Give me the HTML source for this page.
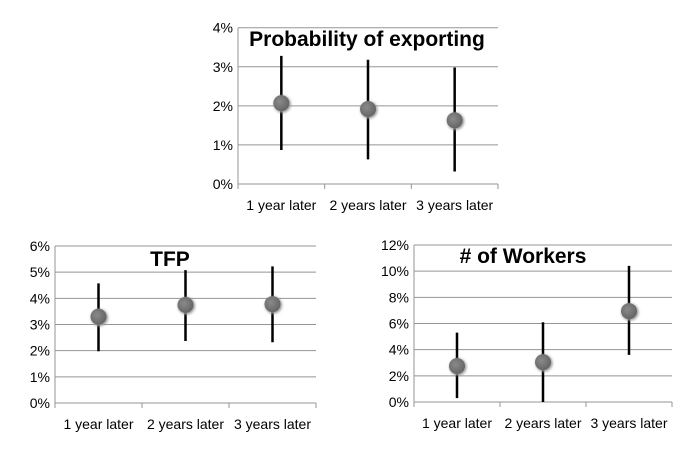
<!DOCTYPE html>
<html><head><meta charset="utf-8"><style>
body{margin:0;background:#fff;width:692px;height:455px;overflow:hidden}
svg text{font-family:"Liberation Sans",sans-serif}
</style></head><body>
<svg id="s" width="692" height="455"></svg>
<script>
const categories=["1 year later","2 years later","3 years later"];
const exportVals=[2.07,1.92,1.63];
const exportHi=[3.28,3.18,2.98];
const exportLo=[0.87,0.63,0.32];
const exportTicks=["0%","1%","2%","3%","4%"];
const tfpVals=[3.3,3.75,3.78];
const tfpHi=[4.57,5.08,5.22];
const tfpLo=[1.98,2.37,2.32];
const tfpTicks=["0%","1%","2%","3%","4%","5%","6%"];
const workVals=[2.75,3.05,6.95];
const workHi=[5.3,6.1,10.4];
const workLo=[0.3,0.0,3.6];
const workTicks=["0%","2%","4%","6%","8%","10%","12%"];
const NS="http://www.w3.org/2000/svg";
const svg=document.getElementById('s');
const defs=document.createElementNS(NS,'defs');
defs.innerHTML='<radialGradient id="g" cx="40%" cy="40%" r="60%"><stop offset="0" stop-color="#8a8a8a"/><stop offset="1" stop-color="#666"/></radialGradient><filter id="sh" x="-50%" y="-50%" width="200%" height="200%"><feGaussianBlur stdDeviation="1.2"/></filter>';
svg.appendChild(defs);
function mk(tag,attrs,parent,txt){const e=document.createElementNS(NS,tag);for(const k in attrs)e.setAttribute(k,attrs[k]);if(txt!==undefined)e.textContent=txt;parent.appendChild(e);return e;}
function chart(name,cfg,vals,hi,lo,ticks,step){
  const g=mk('g',{},svg);
  
  
  const max=(ticks.length-1)*step;
  const y=v=>cfg.y0-(v/max)*(cfg.y0-cfg.y1);
  const bw=(cfg.x1-cfg.x0)/categories.length;
  const x=i=>cfg.x0+bw*(i+0.5);
  ticks.forEach((t,i)=>{
    const yy=y(i*step);
    const l=mk('line',{x1:cfg.x0,x2:cfg.x1,y1:yy,y2:yy,stroke:'#959595','stroke-width':1},g);
    
    
    const tx=mk('text',{x:cfg.x0-5,y:yy+5,'text-anchor':'end','font-size':14,fill:'#000'},g,t);
    
    
  });
  mk('line',{x1:cfg.x0,x2:cfg.x0,y1:cfg.y1,y2:cfg.y0,stroke:'#959595'},g);
  for(let i=0;i<=categories.length;i++){mk('line',{x1:cfg.x0+bw*i,x2:cfg.x0+bw*i,y1:cfg.y0,y2:cfg.y0+5,stroke:'#959595'},g);}
  categories.forEach((c,i)=>{
    const tx=mk('text',{x:x(i),y:cfg.y0+26,'text-anchor':'middle','font-size':14,fill:'#000'},g,c);
    
    
    const w=mk('line',{x1:x(i),x2:x(i),y1:y(hi[i]),y2:y(lo[i]),stroke:'#000','stroke-width':2.5},g);
    
    
    mk('circle',{cx:x(i)+1,cy:y(vals[i])+1,r:8.5,fill:'#999',filter:'url(#sh)'},g);
    const p=mk('circle',{cx:x(i),cy:y(vals[i]),r:8,fill:'url(#g)'},g);
    
    
  });
  const ti=mk('text',{x:cfg.tx,y:cfg.ty,'text-anchor':'middle','font-size':21,'font-weight':'bold',fill:'#000'},g,cfg.title);
  
  
}
chart('exporting-chart',{x0:238,x1:498,y0:184,y1:27.7,title:'Probability of exporting',tx:367,ty:46},exportVals,exportHi,exportLo,exportTicks,1);
chart('tfp-chart',{x0:55,x1:316,y0:403,y1:246,title:'TFP',tx:170,ty:266},tfpVals,tfpHi,tfpLo,tfpTicks,1);
chart('workers-chart',{x0:414,x1:672,y0:402,y1:245,title:'# of Workers',tx:523,ty:263},workVals,workHi,workLo,workTicks,2);
</script>
</body></html>
